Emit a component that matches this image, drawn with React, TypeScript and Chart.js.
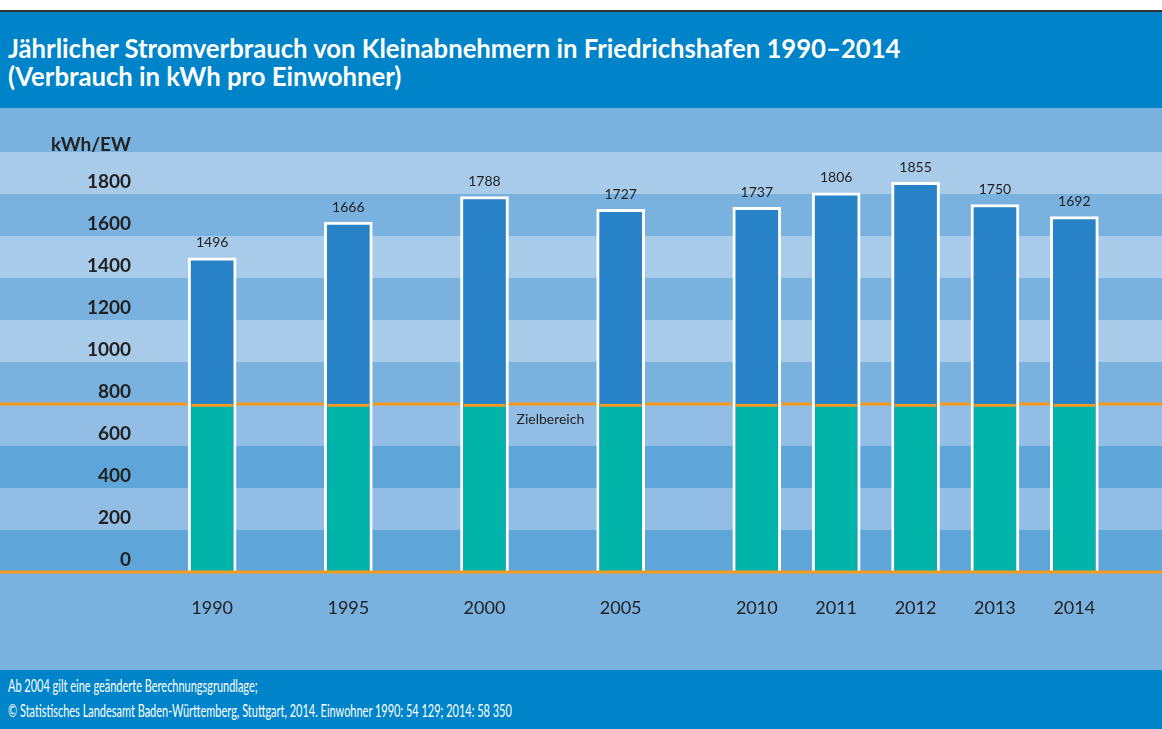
import React, { useEffect, useRef } from 'react';
import { Chart, registerables } from 'chart.js';

Chart.register(...registerables);

// ---------- data ----------
const YEARS = [1990, 1995, 2000, 2005, 2010, 2011, 2012, 2013, 2014];
const CONSUMPTION = [1496, 1666, 1788, 1727, 1737, 1806, 1855, 1750, 1692];
const TARGET = 800;
const TARGET_LABEL = 'Zielbereich';
const Y_UNIT = 'kWh/EW';
const Y_MIN = 0;
const Y_MAX = 2000;
const Y_STEP = 200;
const TITLE_LINES = [
  'Jährlicher Stromverbrauch von Kleinabnehmern in Friedrichshafen 1990–2014',
  '(Verbrauch in kWh pro Einwohner)',
];
const FOOTER_LINES = [
  'Ab 2004 gilt eine geänderte Berechnungsgrundlage;',
  '© Statistisches Landesamt Baden-Württemberg, Stuttgart, 2014. Einwohner 1990: 54 129; 2014: 58 350',
];

// ---------- axis break: 5-year steps until 2010, then yearly steps ----------
const FIRST_YEAR = YEARS[0];
const BREAK_YEAR = 2010;
const YEARLY_STEP = 0.583; // one year after the break, as a fraction of a 5-year step
const warp = (y: number) =>
  y <= BREAK_YEAR
    ? (y - FIRST_YEAR) / 5
    : (BREAK_YEAR - FIRST_YEAR) / 5 + (y - BREAK_YEAR) * YEARLY_STEP;

// ---------- styles ----------
const C_HEADER = '#0084c9';
const C_PANEL = '#79b1df';
const C_LIGHT_UP = '#a9cbea';
const C_LIGHT_LOW = '#92bde5';
const C_DARK_LOW = '#5ea5d9';
const C_BAR = '#2882c7';
const C_TARGET = '#00b4aa';
const C_ORANGE = '#f49b1e';
const C_TEXT = '#222222';
const FONT = 'Lato, "Open Sans", sans-serif';

const bgPlugin = {
  id: 'bgStripes',
  beforeDraw(chart: any) {
    const { ctx, width, height } = chart;
    const y = chart.scales.y;
    ctx.save();
    ctx.fillStyle = C_PANEL;
    ctx.fillRect(0, 0, width, height);
    for (let v = Y_MIN; v < Y_MAX; v += Y_STEP) {
      const i = Math.round(v / Y_STEP);
      let color: string | null = null;
      if (v >= TARGET) color = i % 2 === 1 ? C_LIGHT_UP : null;
      else color = i % 2 === 1 ? C_LIGHT_LOW : C_DARK_LOW;
      if (!color) continue;
      const top = y.getPixelForValue(v + Y_STEP);
      const bot = y.getPixelForValue(v);
      ctx.fillStyle = color;
      ctx.fillRect(0, top, width, bot - top);
    }
    ctx.restore();
  },
  beforeDatasetsDraw(chart: any) {
    const { ctx, width } = chart;
    const py = chart.scales.y.getPixelForValue(TARGET);
    ctx.save();
    ctx.fillStyle = C_ORANGE;
    ctx.fillRect(0, py - 1.5, width, 3);
    ctx.restore();
  },
  afterDatasetsDraw(chart: any) {
    const { ctx, width } = chart;
    const xs = chart.scales.x;
    const ys = chart.scales.y;
    ctx.save();
    // zero line
    const p0 = ys.getPixelForValue(0);
    ctx.fillStyle = C_ORANGE;
    ctx.fillRect(0, p0 - 1.5, width, 3);
    // value labels
    ctx.fillStyle = C_TEXT;
    ctx.font = `14px ${FONT}`;
    ctx.textAlign = 'center';
    ctx.textBaseline = 'middle';
    YEARS.forEach((yr, i) => {
      const px = xs.getPixelForValue(warp(yr));
      const py = ys.getPixelForValue(CONSUMPTION[i]);
      ctx.fillText(String(CONSUMPTION[i]), px, py - 15);
    });
    // target label, right of the 2000 bar
    const idx = YEARS.indexOf(2000);
    const tx = xs.getPixelForValue(warp(YEARS[idx])) + 24 + 8;
    ctx.textAlign = 'left';
    ctx.fillText(TARGET_LABEL, tx, ys.getPixelForValue(TARGET) + 15);
    // unit label
    ctx.font = `bold 19px ${FONT}`;
    ctx.textAlign = 'right';
    ctx.textBaseline = 'alphabetic';
    ctx.fillText(Y_UNIT, 131, ys.getPixelForValue(Y_MAX) - 1);
    ctx.restore();
  },
};

function ChartPanel() {
  const ref = useRef<HTMLCanvasElement | null>(null);
  useEffect(() => {
    if (!ref.current) return;
    const chart = new Chart(ref.current, {
      type: 'bar',
      data: {
        datasets: [
          {
            label: 'Zielbereich',
            data: YEARS.map((yr, i) => ({ x: warp(yr), y: Math.min(CONSUMPTION[i], TARGET) })),
            backgroundColor: C_TARGET,
            borderColor: C_ORANGE,
            borderWidth: { top: 3, left: 0, right: 0, bottom: 0 },
            borderSkipped: 'start',
            barThickness: 42,
            grouped: false,
          } as any,
          {
            label: 'Verbrauch',
            data: YEARS.map((yr, i) => ({ x: warp(yr), y: CONSUMPTION[i] })),
            backgroundColor: C_BAR,
            borderColor: '#ffffff',
            borderWidth: 3,
            borderSkipped: 'start',
            barThickness: 48,
            grouped: false,
          } as any,
        ],
      },
      options: {
        animation: false,
        responsive: false,
        maintainAspectRatio: false,
        layout: { padding: { top: 44, left: 0, right: 0, bottom: 0 } },
        plugins: { legend: { display: false }, title: { display: false }, tooltip: { enabled: false } },
        scales: {
          x: {
            type: 'linear',
            offset: false,
            min: warp(YEARS[0]) - 0.53,
            max: warp(YEARS[YEARS.length - 1]) + 0.644,
            grid: { display: false, drawTicks: false, offset: false },
            border: { display: false },
            afterBuildTicks: (scale: any) => {
              scale.ticks = YEARS.map((yr) => ({ value: warp(yr), label: String(yr) }));
            },
            afterFit: (scale: any) => {
              scale.height = 98;
            },
            ticks: {
              autoSkip: false,
              maxRotation: 0,
              padding: 25,
              color: C_TEXT,
              font: { family: FONT, size: 18 },
              callback: (_v: any, i: number) => String(YEARS[i]),
            },
          },
          y: {
            min: Y_MIN,
            max: Y_MAX,
            grid: { display: false, drawTicks: false },
            border: { display: false },
            afterFit: (scale: any) => {
              scale.width = 140;
            },
            ticks: {
              stepSize: Y_STEP,
              padding: 9,
              labelOffset: -12,
              color: C_TEXT,
              font: { family: FONT, size: 19, weight: 'bold' },
              callback: (v: any) => (v === Y_MAX ? '' : String(v)),
            },
          },
        },
      } as any,
      plugins: [bgPlugin],
    });
    return () => chart.destroy();
  }, []);
  return <canvas ref={ref} width={1162} height={562} style={{ display: 'block' }} />;
}

export default function App() {
  useEffect(() => {
    document.body.style.margin = '0';
  }, []);
  return (
    <div style={{ width: 1162, height: 729, overflow: 'hidden', background: '#fff', fontFamily: FONT }}>
      <div style={{ height: 10, background: '#fff' }} />
      <div style={{ height: 2, background: '#333' }} />
      <div
        style={{
          height: 96,
          boxSizing: 'border-box',
          background: C_HEADER,
          color: '#fff',
          fontWeight: 'bold',
          fontSize: 25.7,
          lineHeight: '28px',
          paddingTop: 22,
          paddingLeft: 8,
          whiteSpace: 'nowrap',
        }}
      >
        {TITLE_LINES.map((t) => (
          <div key={t}>{t}</div>
        ))}
      </div>
      <ChartPanel />
      <div
        style={{
          height: 59,
          boxSizing: 'border-box',
          background: C_HEADER,
          color: '#fff',
          fontSize: 17,
          lineHeight: '25px',
          paddingTop: 3,
          paddingLeft: 8,
          whiteSpace: 'nowrap',
        }}
      >
        {FOOTER_LINES.map((t) => (
          <div key={t}>
            <span style={{ display: 'inline-block', transform: 'scaleX(0.645)', transformOrigin: 'left center' }}>{t}</span>
          </div>
        ))}
      </div>
    </div>
  );
}
